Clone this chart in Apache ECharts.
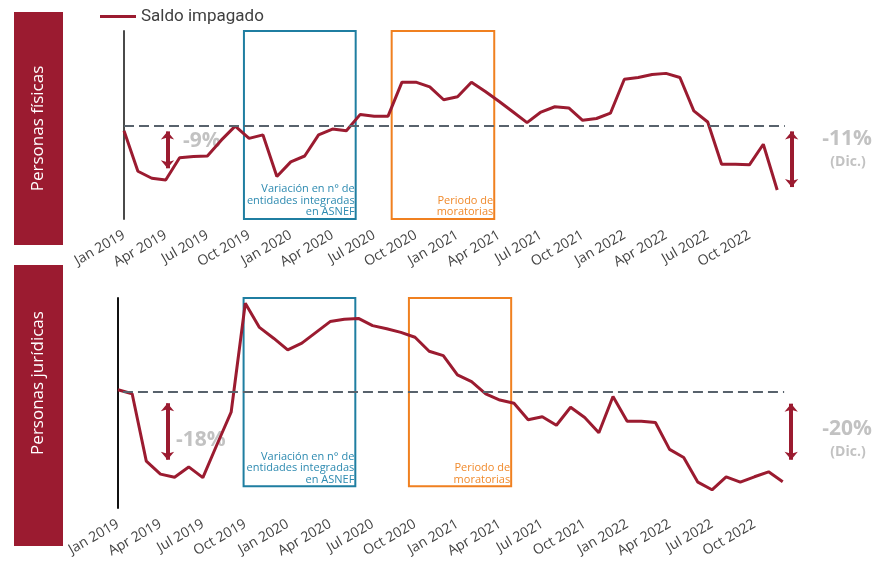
<!DOCTYPE html>
<html><head><meta charset="utf-8">
<script src="https://cdn.jsdelivr.net/npm/echarts@6/dist/echarts.min.js"></script>
<style>html,body{margin:0;padding:0;background:#fff}#c{width:873px;height:566px}</style>
</head><body><div id="c"></div>
<script>
const months = ['Jan 2019','Feb 2019','Mar 2019','Apr 2019','May 2019','Jun 2019','Jul 2019','Aug 2019','Sep 2019','Oct 2019','Nov 2019','Dec 2019',
'Jan 2020','Feb 2020','Mar 2020','Apr 2020','May 2020','Jun 2020','Jul 2020','Aug 2020','Sep 2020','Oct 2020','Nov 2020','Dec 2020',
'Jan 2021','Feb 2021','Mar 2021','Apr 2021','May 2021','Jun 2021','Jul 2021','Aug 2021','Sep 2021','Oct 2021','Nov 2021','Dec 2021',
'Jan 2022','Feb 2022','Mar 2022','Apr 2022','May 2022','Jun 2022','Jul 2022','Aug 2022','Sep 2022','Oct 2022','Nov 2022','Dec 2022'];
// Saldo impagado, índice (base 100)
const fisicas = [99.1,92.2,91.0,90.7,94.5,94.7,94.8,97.5,99.9,97.8,98.4,91.3,
93.8,94.8,98.4,99.4,99.1,101.9,101.6,101.6,107.4,107.4,106.6,104.4,
104.9,107.4,105.8,104.1,102.3,100.5,102.3,103.2,103.0,100.9,101.2,102.1,
107.9,108.2,108.7,108.9,108.2,102.5,100.6,93.4,93.4,93.3,96.8,89.0];
const juridicas = [100.5,99.6,84.6,81.7,81.0,83.3,80.9,88.3,95.5,119.8,114.4,112.0,
109.4,110.9,113.3,115.7,116.2,116.4,114.8,114.1,113.3,112.2,109.1,108.1,
103.8,102.3,99.6,98.2,97.5,93.8,94.5,92.6,96.6,94.3,90.9,99.0,
93.5,93.5,93.2,87.2,85.4,79.9,78.2,81.1,79.9,81.1,82.2,80.0];
const baseline = 100;
const panelTitles = ['Personas físicas','Personas jurídicas'];
const changeLabels = [['-9%','-11%'],['-18%','-20%']];
const boxTexts = ['Variación en n° de\nentidades integradas\nen ASNEF','Periodo de\nmoratorias'];

const RED = '#9b1b30', BLUE = '#1f7ea1', ORANGE = '#f08020', GREYTXT = '#c2c2c2';
const chart = echarts.init(document.getElementById('c'));

function xAx(gi){
  return {type:'value', gridIndex:gi, min:0, max:49, interval:3,
    axisLine:{show:false}, axisTick:{show:false}, splitLine:{show:false},
    axisLabel:{rotate:30, margin:15, color:'#444', fontSize:14, fontFamily:'Open Sans',
      showMaxLabel:false, formatter:v => (v % 3 === 0 && v < months.length ? months[v] : '')}};
}
function yAx(gi,min,max,col){
  return {type:'value', gridIndex:gi, min:min, max:max,
    axisLine:{show:true, lineStyle:{color:col, width:2}}, axisTick:{show:false},
    axisLabel:{show:false}, splitLine:{show:false}};
}
function boxLabel(text,color){
  return {show:true, position:'insideBottomRight', distance:2, formatter:text, color:color,
    fontSize:11, lineHeight:11.5, align:'right', fontFamily:'Open Sans'};
}
function arrow(x,y1,y2){
  return [{coord:[x,y1], symbol:'arrow', symbolSize:[10,8], lineStyle:{color:RED, width:4, type:'solid'}},
          {coord:[x,y2], symbol:'arrow', symbolSize:[10,8]}];
}
function dashed(x1,x2){
  return [{coord:[x1,baseline], symbol:'none', lineStyle:{color:'#58626c', width:2, type:[10,5]}},
          {coord:[x2,baseline], symbol:'none'}];
}

chart.setOption({
  animation:false,
  legend:{data:['Saldo impagado'], left:100, top:8, padding:0, icon:'rect', itemWidth:36, itemHeight:3,
    textStyle:{fontFamily:'Roboto', fontSize:17, color:'#404040'}},
  grid:[{left:124, right:68, top:31, height:188},{left:118, right:62, top:298, height:210}],
  xAxis:[xAx(0), xAx(1)],
  yAxis:[yAx(0,84.05,116.13,'#4a4a4a'), yAx(1,74.14,120.96,'#111')],
  series:[
    {name:'Saldo impagado', type:'line', xAxisIndex:0, yAxisIndex:0, clip:false,
     data:fisicas.map((v,i)=>[i,v]), symbol:'none', lineStyle:{color:RED, width:3}, itemStyle:{color:RED},
     markLine:{silent:true, symbol:'none', label:{show:false},
       data:[dashed(0,47.55), arrow(3.13,99.0,92.7), arrow(48.04,99.0,89.5)]},
     markArea:{silent:true, itemStyle:{color:'rgba(0,0,0,0)', borderWidth:2},
       data:[[{xAxis:8.63, yAxis:116.13, itemStyle:{borderColor:BLUE, color:'rgba(0,0,0,0)', borderWidth:2}, label:boxLabel(boxTexts[0],'#2d8ab0')},{xAxis:16.67, yAxis:84.05}],
             [{xAxis:19.26, yAxis:116.13, itemStyle:{borderColor:ORANGE, color:'rgba(0,0,0,0)', borderWidth:2}, label:boxLabel(boxTexts[1],'#f08a2c')},{xAxis:26.64, yAxis:84.05}]]}},
    {name:'Saldo impagado', type:'line', xAxisIndex:1, yAxisIndex:1, clip:false,
     data:juridicas.map((v,i)=>[i,v]), symbol:'none', lineStyle:{color:RED, width:3}, itemStyle:{color:RED},
     markLine:{silent:true, symbol:'none', label:{show:false},
       data:[dashed(0.35,47.1), arrow(3.5,97.5,84.9), arrow(47.6,97.4,84.9)]},
     markArea:{silent:true, itemStyle:{color:'rgba(0,0,0,0)', borderWidth:2},
       data:[[{xAxis:8.88, yAxis:120.96, itemStyle:{borderColor:BLUE, color:'rgba(0,0,0,0)', borderWidth:2}, label:boxLabel(boxTexts[0],'#2d8ab0')},{xAxis:16.78, yAxis:79.0}],
             [{xAxis:20.57, yAxis:120.96, itemStyle:{borderColor:ORANGE, color:'rgba(0,0,0,0)', borderWidth:2}, label:boxLabel(boxTexts[1],'#f08a2c')},{xAxis:27.8, yAxis:79.0}]]}}
  ],
  graphic:[
    {type:'rect', shape:{x:14,y:12,width:49,height:233}, style:{fill:RED}, z:0},
    {type:'rect', shape:{x:14,y:265,width:49,height:281}, style:{fill:RED}, z:0},
    {type:'text', x:38.5, y:128.5, rotation:Math.PI/2, style:{text:panelTitles[0], fill:'#fff', font:'17px "Open Sans"', textAlign:'center', textVerticalAlign:'middle'}},
    {type:'text', x:38.5, y:383, rotation:Math.PI/2, style:{text:panelTitles[1], fill:'#fff', font:'17px "Open Sans"', textAlign:'center', textVerticalAlign:'middle'}},
    {type:'text', x:183, y:141, style:{text:changeLabels[0][0], fill:GREYTXT, font:'bold 21px "Open Sans"', textAlign:'left', textVerticalAlign:'middle'}},
    {type:'text', x:847, y:139, style:{text:changeLabels[0][1], fill:GREYTXT, font:'bold 21px "Open Sans"', textAlign:'center', textVerticalAlign:'middle'}},
    {type:'text', x:848, y:162, style:{text:'(Dic.)', fill:GREYTXT, font:'bold 14px "Open Sans"', textAlign:'center', textVerticalAlign:'middle'}},
    {type:'text', x:176, y:440, style:{text:changeLabels[1][0], fill:GREYTXT, font:'bold 21px "Open Sans"', textAlign:'left', textVerticalAlign:'middle'}},
    {type:'text', x:847, y:429, style:{text:changeLabels[1][1], fill:GREYTXT, font:'bold 21px "Open Sans"', textAlign:'center', textVerticalAlign:'middle'}},
    {type:'text', x:848, y:452, style:{text:'(Dic.)', fill:GREYTXT, font:'bold 14px "Open Sans"', textAlign:'center', textVerticalAlign:'middle'}}
  ]
});
</script></body></html>
